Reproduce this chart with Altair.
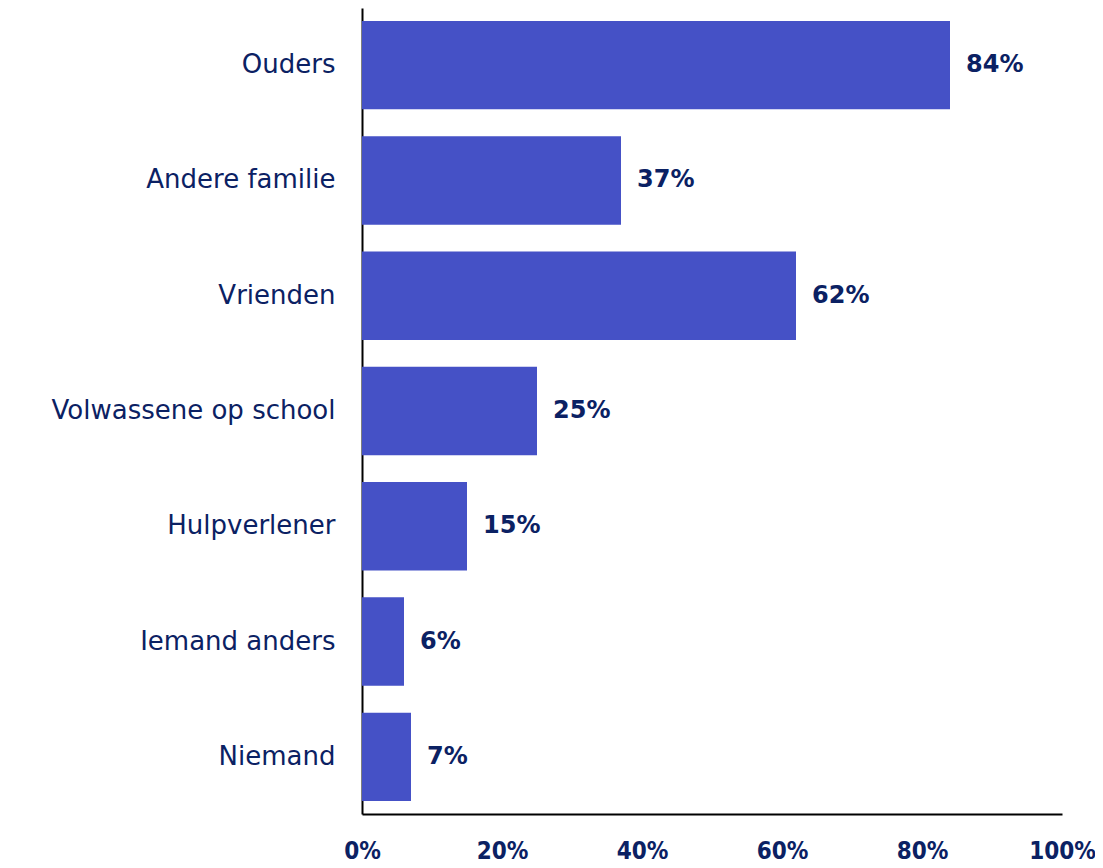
import altair as alt
import pandas as pd

categories = ["Ouders", "Andere familie", "Vrienden", "Volwassene op school",
              "Hulpverlener", "Iemand anders", "Niemand"]
values = [84, 37, 62, 25, 15, 6, 7]
labels = ["84%", "37%", "62%", "25%", "15%", "6%", "7%"]
ticks = [0, 20, 40, 60, 80, 100]

df = pd.DataFrame({"cat": categories, "val": values, "lab": labels})

BAR = "#4551C6"
NAVY = "#0B2163"

y = alt.Y("cat:N", sort=categories, title=None,
          scale=alt.Scale(paddingInner=0.233, paddingOuter=0.112),
          axis=alt.Axis(domain=True, domainColor="#000000", domainWidth=2,
                        ticks=False, labelFont="DejaVu Sans", labelFontSize=26,
                        labelFontWeight="normal", labelColor=NAVY, labelPadding=27,
                        labelLimit=0, grid=False))
x = alt.X("val:Q", title=None,
          scale=alt.Scale(domain=[0, 100], nice=False),
          axis=alt.Axis(values=ticks, labelExpr="datum.value + '%'",
                        domain=True, domainColor="#000000", domainWidth=2,
                        ticks=False, grid=False,
                        labelFont="'DejaVu Sans Condensed', 'Roboto Condensed', Roboto, sans-serif",
                        labelFontSize=24, labelFontWeight="bold", labelColor=NAVY,
                        labelPadding=25, labelFlush=False))

bars = alt.Chart(df).mark_bar(color=BAR).encode(x=x, y=y)
text = alt.Chart(df).mark_text(align="left", baseline="middle", dx=16,
                               font="DejaVu Sans", fontSize=24, fontWeight="bold",
                               color=NAVY).encode(
    x="val:Q", y=alt.Y("cat:N", sort=categories), text="lab:N")

chart = (bars + text).properties(
    width=700, height=806,
    padding={"left": 354, "top": 0, "right": 33, "bottom": 50},
    autosize=alt.AutoSizeParams(type="none"),
    background="#ffffff",
).configure_view(stroke=None)

chart.save("out.html", embed_options={"renderer": "svg", "actions": False})
